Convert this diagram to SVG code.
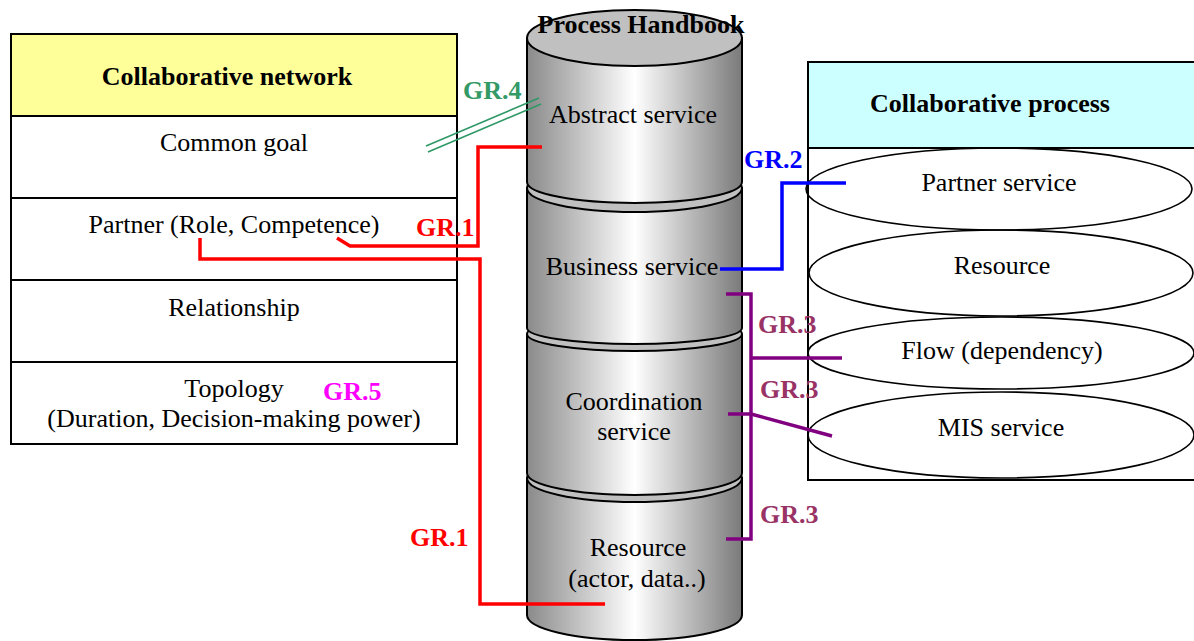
<svg xmlns="http://www.w3.org/2000/svg" width="1194" height="641" viewBox="0 0 1194 641">
<style>
  text { font-family: "Liberation Serif", "Times New Roman", serif; font-size: 26px; fill: #000; }
  .c { text-anchor: middle; }
  .b { font-weight: bold; }
  .box { fill: #fff; stroke: #000; stroke-width: 2; }
  .ln { stroke: #000; stroke-width: 2; fill: none; }
  .ell { fill: none; stroke: #000; stroke-width: 1.6; }
  .body { fill: url(#cylg); stroke: #000; stroke-width: 2; }
  .cap { fill: #c0c0c0; stroke: #000; stroke-width: 2; }
  .red { stroke: #ff0000; stroke-width: 3.5; fill: none; }
  .blue { stroke: #0000ff; stroke-width: 3.5; fill: none; }
  .pur { stroke: #800080; stroke-width: 3.5; fill: none; }
  .grn { stroke: #2e9966; stroke-width: 1.6; fill: none; }
  .lab { font-weight: bold; }
</style>
<defs>
  <linearGradient id="cylg" x1="0" y1="0" x2="1" y2="0">
    <stop offset="0" stop-color="#8a8a8a"/>
    <stop offset="0.5" stop-color="#ffffff"/>
    <stop offset="1" stop-color="#7a7a7a"/>
  </linearGradient>
</defs>

<g id="collaborative-network">
  <rect class="box" x="11" y="34" width="446" height="410"/>
  <rect x="11" y="34" width="446" height="82" fill="#ffff99" stroke="#000" stroke-width="2"/>
  <line class="ln" x1="11" y1="198" x2="457" y2="198"/>
  <line class="ln" x1="11" y1="280" x2="457" y2="280"/>
  <line class="ln" x1="11" y1="362" x2="457" y2="362"/>
  <text class="c b" x="227" y="85">Collaborative network</text>
  <text class="c" x="234" y="151">Common goal</text>
  <text class="c" x="234" y="233">Partner (Role, Competence)</text>
  <text class="c" x="234" y="316">Relationship</text>
  <text class="c" x="234" y="397">Topology</text>
  <text class="c" x="234" y="427">(Duration, Decision-making power)</text>
  <text class="lab" x="323" y="400" fill="#ff00ff" style="fill:#ff00ff">GR.5</text>
</g>

<g id="collaborative-process">
  <rect class="box" x="808" y="62" width="400" height="418"/>
  <rect x="808" y="62" width="400" height="86" fill="#ccffff" stroke="#000" stroke-width="2"/>
  <ellipse class="ell" cx="999" cy="189" rx="193" ry="41"/>
  <ellipse class="ell" cx="1001" cy="273" rx="192" ry="43"/>
  <ellipse class="ell" cx="1001" cy="353" rx="193" ry="36"/>
  <ellipse class="ell" cx="1001" cy="435" rx="193" ry="43"/>
  <text class="c b" x="990" y="112">Collaborative process</text>
  <text class="c" x="999" y="191">Partner service</text>
  <text class="c" x="1002" y="274">Resource</text>
  <text class="c" x="1002" y="359">Flow (dependency)</text>
  <text class="c" x="1001" y="436">MIS service</text>
</g>

<g id="process-handbook">
  <!-- segment 4 -->
  <path class="body" d="M527,478 L527,615 A107.5,25 0 0 0 742,615 L742,478 Z"/>
  <ellipse class="cap" cx="634.5" cy="478" rx="107.5" ry="24"/>
  <!-- segment 3 -->
  <path class="body" d="M527,335 L527,473 A107.5,22 0 0 0 742,473 L742,335 Z"/>
  <ellipse class="cap" cx="634.5" cy="334" rx="107.5" ry="17"/>
  <!-- segment 2 -->
  <path class="body" d="M527,188 L527,328 A107.5,16 0 0 0 742,328 L742,188 Z"/>
  <ellipse class="cap" cx="634.5" cy="188" rx="107.5" ry="24"/>
  <!-- segment 1 -->
  <path class="body" d="M527,38 L527,182 A107.5,21 0 0 0 742,182 L742,38 Z"/>
  <ellipse class="cap" cx="634.5" cy="38" rx="107.5" ry="28"/>
  <text class="c b" x="641" y="33">Process Handbook</text>
  <text class="c" x="633" y="123">Abstract service</text>
  <text class="c" x="632" y="275">Business service</text>
  <text class="c" x="634" y="410">Coordination</text>
  <text class="c" x="634" y="440">service</text>
  <text class="c" x="638" y="556">Resource</text>
  <text class="c" x="637" y="587">(actor, data..)</text>
</g>

<g id="connectors">
  <!-- GR.4 -->
  <line class="grn" x1="426" y1="146" x2="539" y2="98"/>
  <line class="grn" x1="428" y1="152" x2="541" y2="104"/>
  <text class="lab" x="463" y="99" style="fill:#339966">GR.4</text>
  <!-- GR.1 -->
  <polyline class="red" points="542,147 478,147 478,246 350,246 337,238"/>
  <polyline class="red" points="200,238 200,259 480,259 480,604 605,604"/>
  <text class="lab" x="416" y="236" style="fill:#ff0000">GR.1</text>
  <text class="lab" x="410" y="546" style="fill:#ff0000">GR.1</text>
  <!-- GR.2 -->
  <polyline class="blue" points="720,269 782,269 782,183 846,183"/>
  <text class="lab" x="744" y="168" style="fill:#0000ff">GR.2</text>
  <!-- GR.3 -->
  <polyline class="pur" points="726,294 751,294 751,539 726,539"/>
  <line class="pur" x1="751" y1="358" x2="842" y2="358"/>
  <line class="pur" x1="728" y1="414" x2="751" y2="414"/>
  <line class="pur" x1="751" y1="414" x2="832" y2="436"/>
  <text class="lab" x="758" y="333" style="fill:#993366">GR.3</text>
  <text class="lab" x="760" y="398" style="fill:#993366">GR.3</text>
  <text class="lab" x="760" y="523" style="fill:#993366">GR.3</text>
</g>
</svg>
